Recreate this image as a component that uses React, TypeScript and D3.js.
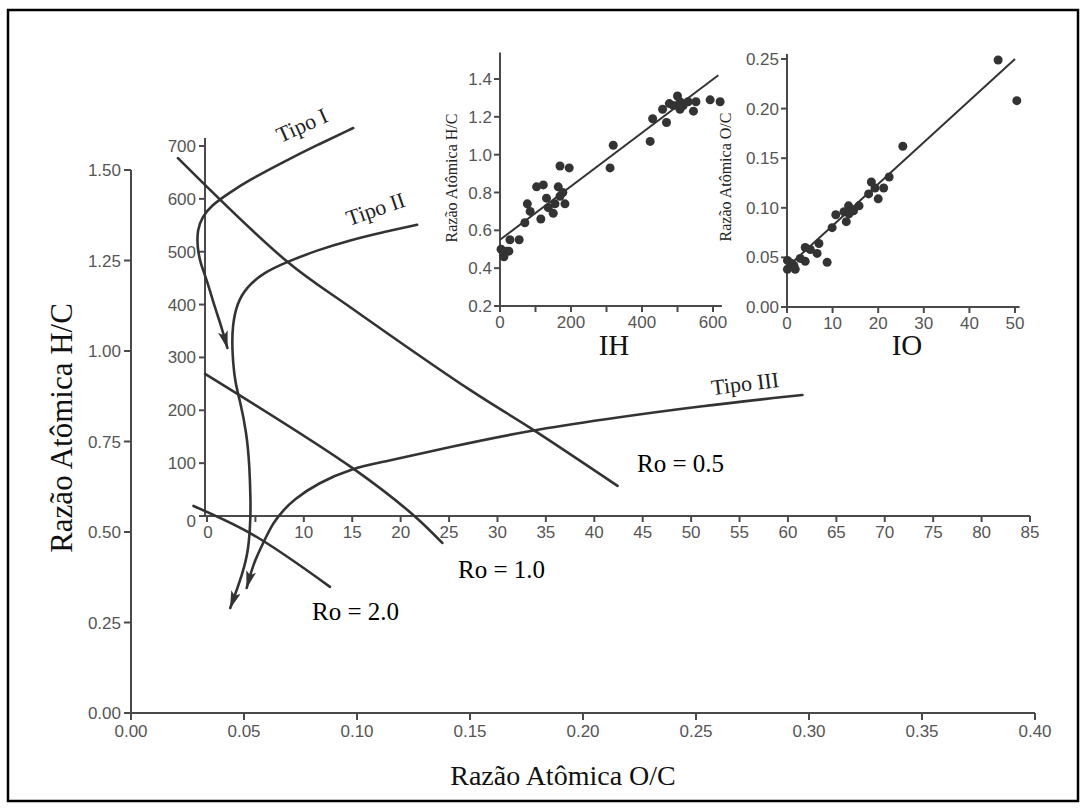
import React from "react";
import * as d3 from "d3";

// ---------- Main Van Krevelen axes ----------
const mainXTicks = [0, 0.05, 0.1, 0.15, 0.2, 0.25, 0.3, 0.35, 0.4];
const mainYTicks = [0, 0.25, 0.5, 0.75, 1.0, 1.25, 1.5];

// ---------- Pseudo Van Krevelen (IO x IH) ----------
const ioTicks = [0, 5, 10, 15, 20, 25, 30, 35, 40, 45, 50, 55, 60, 65, 70, 75, 80, 85];
const ioTickLabels = [0, 10, 15, 20, 25, 30, 35, 40, 45, 50, 55, 60, 65, 70, 75, 80, 85];
const ihTicks = [0, 100, 200, 300, 400, 500, 600, 700];

const tipoI: [number, number][] = [
  [15.1, 734], [11.4, 702], [7.9, 670], [4.4, 636], [2.1, 609], [0.5, 588],
  [-0.5, 566], [-1.0, 541], [-1.0, 509], [-0.7, 479], [0.0, 446], [0.8, 395],
  [1.5, 358], [2.1, 318],
];
const tipoII: [number, number][] = [
  [21.7, 551], [18.2, 537], [14.8, 522], [11.4, 503], [8.3, 481], [5.8, 460],
  [4.1, 433], [3.1, 403], [2.6, 358], [2.6, 308], [2.9, 252], [3.4, 219],
  [4.1, 157], [4.4, 93], [4.5, 30], [4.5, -2], [4.3, -64], [3.7, -108], [2.4, -174],
];
const tipoIII: [number, number][] = [
  [61.5, 229], [50.9, 208], [40.6, 182], [33.7, 163], [25.1, 131], [18.2, 102],
  [15.1, 91], [11.4, 62], [8.9, 30], [7.9, 11], [6.8, -13], [5.8, -51],
  [4.8, -89], [4.1, -136],
];
const ro05: [number, number][] = [[-3.0, 677], [8.3, 481], [14.8, 395], [27.2, 238], [33.7, 163], [42.4, 57]];
const ro10: [number, number][] = [[-0.2, 269], [15.0, 91], [21.3, 2], [24.3, -51]];
const ro20: [number, number][] = [[-1.4, 19], [4.8, -36], [12.7, -134]];

// ---------- Inset IH vs H/C ----------
const ihXTicks = [0, 100, 200, 300, 400, 500, 600];
const ihXLabels = [0, 200, 400, 600];
const hcTicks = [0.2, 0.4, 0.6, 0.8, 1.0, 1.2, 1.4];
const ihVals = [3, 11, 19, 25, 28, 54, 70, 77, 85, 103, 122, 115, 131, 136, 150, 155, 164, 169, 169, 177, 183, 195, 310, 319, 423, 430, 458, 469, 477, 488, 500, 507, 516, 530, 545, 552, 592, 620, 507];
const hcVals = [0.50, 0.46, 0.49, 0.49, 0.55, 0.55, 0.64, 0.74, 0.70, 0.83, 0.84, 0.66, 0.77, 0.72, 0.69, 0.74, 0.83, 0.94, 0.78, 0.80, 0.74, 0.93, 0.93, 1.05, 1.07, 1.19, 1.24, 1.17, 1.27, 1.26, 1.31, 1.28, 1.26, 1.28, 1.23, 1.28, 1.29, 1.28, 1.24];
const ihFit: [number, number][] = [[0, 0.55], [615, 1.42]];

// ---------- Inset IO vs O/C ----------
const ioXTicks = [0, 10, 20, 30, 40, 50];
const ocTicks = [0, 0.05, 0.1, 0.15, 0.2, 0.25];
const ioVals = [0.1, 0.1, 0.9, 1.8, 1.5, 2.9, 4.0, 4.0, 5.1, 6.6, 7.0, 8.8, 9.9, 10.7, 12.5, 13.0, 13.5, 13.6, 14.6, 15.8, 17.9, 18.5, 19.3, 20.0, 21.2, 22.4, 25.4, 46.3, 50.4];
const ocVals = [0.047, 0.038, 0.044, 0.038, 0.042, 0.049, 0.046, 0.060, 0.058, 0.054, 0.064, 0.045, 0.080, 0.093, 0.096, 0.086, 0.102, 0.094, 0.097, 0.102, 0.114, 0.126, 0.120, 0.109, 0.120, 0.131, 0.162, 0.249, 0.208];
const ioFit: [number, number][] = [[0, 0.04], [50, 0.25]];

const SANS = "'Liberation Sans', Arial, sans-serif";
const SERIF = "'Liberation Serif', 'Times New Roman', serif";
const AX = "#4a4a4a";
const TXT = "#555";
const INK = "#333";

export default function App() {
  // main scales
  const xMain = d3.scaleLinear().domain([0, 0.4]).range([131, 1035]);
  const yMain = d3.scaleLinear().domain([0, 1.5]).range([713, 170]);
  // IO/IH scales
  const xIO = d3.scaleLinear().domain([0, 85]).range([207, 1030]);
  const yIH = d3.scaleLinear().domain([0, 700]).range([516, 146]);
  // inset IH
  const xIH = d3.scaleLinear().domain([0, 600]).range([500, 713]);
  const yHC = d3.scaleLinear().domain([0.2, 1.4]).range([306, 79]);
  // inset IO
  const xIOi = d3.scaleLinear().domain([0, 50]).range([787, 1015]);
  const yOC = d3.scaleLinear().domain([0, 0.25]).range([307, 59]);

  const smooth = d3.line<[number, number]>()
    .x((d) => xIO(d[0]))
    .y((d) => yIH(d[1]))
    .curve(d3.curveBasis);
  const lineRo = d3.line<[number, number]>()
    .x((d) => xIO(d[0]))
    .y((d) => yIH(d[1]))
    .curve(d3.curveCatmullRom.alpha(0.5));

  const fmt2 = d3.format(".2f");
  const fmt1 = d3.format(".1f");

  return (
    <svg
      width={1086}
      height={808}
      style={{ position: "absolute", left: 0, top: 0, background: "#fff" }}
    >
      <defs>
        <marker id="arr" markerUnits="userSpaceOnUse" markerWidth={20} markerHeight={12}
          refX={17} refY={5} orient="auto">
          <path d="M0,0 L18,5 L0,10 L4,5 z" fill={INK} />
        </marker>
      </defs>
      <rect x={0} y={0} width={1086} height={808} fill="#fff" />
      <rect x={8} y={10} width={1070} height={791} fill="none" stroke="#000" strokeWidth={2.5} />

      {/* ---------- Main axes ---------- */}
      <g>
        <line x1={xMain(0)} x2={xMain(0)} y1={yMain(0)} y2={yMain(1.5)} stroke={AX} strokeWidth={2} />
        <line x1={xMain(0)} x2={xMain(0.4)} y1={yMain(0)} y2={yMain(0)} stroke={AX} strokeWidth={2} />
        {mainYTicks.map((t) => (
          <g key={"my" + t}>
            <line x1={xMain(0) - 7} x2={xMain(0)} y1={yMain(t)} y2={yMain(t)} stroke={AX} strokeWidth={2} />
            <text x={xMain(0) - 10} y={yMain(t) + 6} textAnchor="end" fontFamily={SANS} fontSize={17} fill={TXT}>{fmt2(t)}</text>
          </g>
        ))}
        {mainXTicks.map((t) => (
          <g key={"mx" + t}>
            <line x1={xMain(t)} x2={xMain(t)} y1={yMain(0)} y2={yMain(0) + 7} stroke={AX} strokeWidth={2} />
            <text x={xMain(t)} y={yMain(0) + 24} textAnchor="middle" fontFamily={SANS} fontSize={17} fill={TXT}>{fmt2(t)}</text>
          </g>
        ))}
        <text x={563} y={785} textAnchor="middle" fontFamily={SERIF} fontSize={28} fill="#111">Razão Atômica O/C</text>
        <text transform={`translate(72,428) rotate(-90)`} textAnchor="middle" fontFamily={SERIF} fontSize={31} fill="#111">Razão Atômica H/C</text>
      </g>

      {/* ---------- IO x IH axes ---------- */}
      <g>
        <line x1={205} x2={205} y1={yIH(0)} y2={yIH(715)} stroke={AX} strokeWidth={2} />
        <line x1={205} x2={xIO(85)} y1={yIH(0)} y2={yIH(0)} stroke={AX} strokeWidth={2} />
        {ihTicks.map((t) => (
          <g key={"ih" + t}>
            <line x1={199} x2={205} y1={yIH(t)} y2={yIH(t)} stroke={AX} strokeWidth={2} />
            <text x={196} y={yIH(t) + 6 + (t === 0 ? 5 : 0)} textAnchor="end" fontFamily={SANS} fontSize={17} fill={TXT}>{t}</text>
          </g>
        ))}
        {ioTicks.map((t) => (
          <line key={"iot" + t} x1={xIO(t)} x2={xIO(t)} y1={yIH(0)} y2={yIH(0) + 6} stroke={AX} strokeWidth={2} />
        ))}
        {ioTickLabels.map((t) => (
          <text key={"iol" + t} x={xIO(t) + (t === 0 ? 1 : 0)} y={yIH(0) + 22} textAnchor="middle" fontFamily={SANS} fontSize={17} fill={TXT}>{t}</text>
        ))}
      </g>

      {/* curves */}
      <g fill="none" stroke={INK} strokeWidth={2.6} strokeLinecap="round">
        <path d={smooth(tipoI) || ""} markerEnd="url(#arr)" />
        <path d={smooth(tipoII) || ""} markerEnd="url(#arr)" />
        <path d={smooth(tipoIII) || ""} markerEnd="url(#arr)" />
        <path d={lineRo(ro05) || ""} />
        <path d={lineRo(ro10) || ""} />
        <path d={lineRo(ro20) || ""} />
      </g>
      <text transform="translate(305,132) rotate(-24)" textAnchor="middle" fontFamily={SERIF} fontSize={22} fill="#222">Tipo I</text>
      <text transform="translate(378,216) rotate(-19)" textAnchor="middle" fontFamily={SERIF} fontSize={22} fill="#222">Tipo II</text>
      <text transform="translate(746,391) rotate(-7)" textAnchor="middle" fontFamily={SERIF} fontSize={22} fill="#222">Tipo III</text>
      <text x={637} y={472} fontFamily={SERIF} fontSize={25} fill="#000">Ro = 0.5</text>
      <text x={458} y={578} fontFamily={SERIF} fontSize={25} fill="#000">Ro = 1.0</text>
      <text x={312} y={620} fontFamily={SERIF} fontSize={25} fill="#000">Ro = 2.0</text>

      {/* ---------- Inset IH ---------- */}
      <g>
        <line x1={xIH(0)} x2={xIH(0)} y1={yHC(0.2)} y2={yHC(1.54)} stroke={AX} strokeWidth={2} />
        <line x1={xIH(0)} x2={xIH(625)} y1={yHC(0.2)} y2={yHC(0.2)} stroke={AX} strokeWidth={2} />
        {hcTicks.map((t) => (
          <g key={"hc" + t}>
            <line x1={xIH(0) - 6} x2={xIH(0)} y1={yHC(t)} y2={yHC(t)} stroke={AX} strokeWidth={2} />
            <text x={xIH(0) - 8} y={yHC(t) + 6} textAnchor="end" fontFamily={SANS} fontSize={17} fill={TXT}>{fmt1(t)}</text>
          </g>
        ))}
        {ihXTicks.map((t) => (
          <line key={"ihx" + t} x1={xIH(t)} x2={xIH(t)} y1={yHC(0.2)} y2={yHC(0.2) + 6} stroke={AX} strokeWidth={2} />
        ))}
        {ihXLabels.map((t) => (
          <text key={"ihl" + t} x={xIH(t)} y={yHC(0.2) + 22} textAnchor="middle" fontFamily={SANS} fontSize={17} fill={TXT}>{t}</text>
        ))}
        <line x1={xIH(ihFit[0][0])} y1={yHC(ihFit[0][1])} x2={xIH(ihFit[1][0])} y2={yHC(ihFit[1][1])} stroke={INK} strokeWidth={2} />
        {ihVals.map((v, i) => (
          <circle key={"ihp" + i} cx={xIH(v)} cy={yHC(hcVals[i])} r={4.5} fill={INK} />
        ))}
        <text transform={`translate(457,178) rotate(-90)`} textAnchor="middle" fontFamily={SERIF} fontSize={16} fill="#222">Razão Atômica H/C</text>
        <text x={614} y={355} textAnchor="middle" fontFamily={SERIF} fontSize={29} fill="#111">IH</text>
      </g>

      {/* ---------- Inset IO ---------- */}
      <g>
        <line x1={xIOi(0)} x2={xIOi(0)} y1={yOC(0)} y2={yOC(0.255)} stroke={AX} strokeWidth={2} />
        <line x1={xIOi(0)} x2={xIOi(51)} y1={yOC(0)} y2={yOC(0)} stroke={AX} strokeWidth={2} />
        {ocTicks.map((t) => (
          <g key={"oc" + t}>
            <line x1={xIOi(0) - 6} x2={xIOi(0)} y1={yOC(t)} y2={yOC(t)} stroke={AX} strokeWidth={2} />
            <text x={xIOi(0) - 8} y={yOC(t) + 6} textAnchor="end" fontFamily={SANS} fontSize={17} fill={TXT}>{fmt2(t)}</text>
          </g>
        ))}
        {ioXTicks.map((t) => (
          <g key={"iox" + t}>
            <line x1={xIOi(t)} x2={xIOi(t)} y1={yOC(0)} y2={yOC(0) + 6} stroke={AX} strokeWidth={2} />
            <text x={xIOi(t)} y={yOC(0) + 22} textAnchor="middle" fontFamily={SANS} fontSize={17} fill={TXT}>{t}</text>
          </g>
        ))}
        <line x1={xIOi(ioFit[0][0])} y1={yOC(ioFit[0][1])} x2={xIOi(ioFit[1][0])} y2={yOC(ioFit[1][1])} stroke={INK} strokeWidth={2} />
        {ioVals.map((v, i) => (
          <circle key={"iop" + i} cx={xIOi(v)} cy={yOC(ocVals[i])} r={4.5} fill={INK} />
        ))}
        <text transform={`translate(731,177) rotate(-90)`} textAnchor="middle" fontFamily={SERIF} fontSize={16} fill="#222">Razão Atômica O/C</text>
        <text x={907} y={355} textAnchor="middle" fontFamily={SERIF} fontSize={29} fill="#111">IO</text>
      </g>
    </svg>
  );
}
